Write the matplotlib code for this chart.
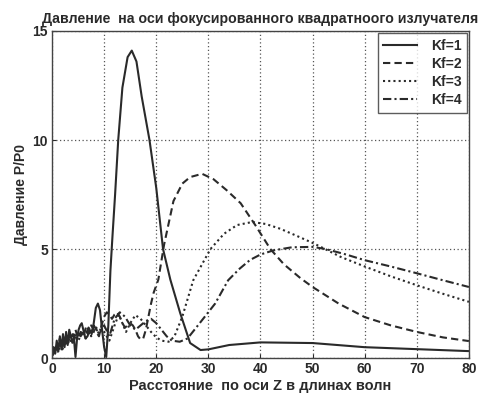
import matplotlib
matplotlib.use("Agg")
import matplotlib.pyplot as plt

# Kf=1 (solid)
x1 = [0, 0.3, 0.6, 0.9, 1.2, 1.5, 1.8, 2.1, 2.4, 2.7, 3.0, 3.3, 3.6, 3.9, 4.2, 4.5, 4.8,
      5.1, 5.4, 5.7, 6.0, 6.4, 6.8, 7.2, 7.6, 8.0, 8.4, 8.8, 9.2, 9.6, 10.0, 10.4, 10.8,
      11.2, 11.6, 12.1, 12.7, 13.5, 14.5, 15.3, 16.2, 17.2, 18.7, 20.0, 21.3, 22.7, 24.6,
      26.5, 28.5, 30, 34, 40, 50, 60, 70, 80]
y1 = [0.1, 0.5, 0.2, 0.8, 0.3, 1.0, 0.4, 1.1, 0.5, 1.2, 0.6, 1.3, 1.0, 0.7, 0.9, 0.05, 0.9,
      1.3, 1.5, 1.6, 1.3, 0.9, 1.0, 1.3, 1.1, 1.6, 2.3, 2.5, 2.2, 1.3, 0.5, 0.05, 1.5,
      4.0, 5.6, 7.5, 10.0, 12.4, 13.8, 14.1, 13.6, 12.0, 10.0, 7.8, 5.0, 3.6, 2.06,
      0.69, 0.37, 0.4, 0.6, 0.72, 0.69, 0.5, 0.41, 0.32]

# Kf=2 (dashed)
x2 = [0, 0.5, 1, 1.5, 2, 2.5, 3, 3.5, 4, 4.5, 5, 5.5, 6, 6.5, 7, 7.5, 8, 8.5, 9, 9.5,
      10, 10.5, 11, 11.5, 12, 12.5, 13, 13.5, 14, 14.5, 15, 15.5, 16, 16.5, 17, 17.5,
      18, 18.5, 19, 19.5, 20.4, 21.5, 23.3, 25, 26.5, 28.8, 31, 33.5, 36.2, 39, 41.9,
      44.5, 47.7, 50, 55, 60, 65, 70, 75, 80]
y2 = [0.2, 0.6, 0.4, 0.9, 0.5, 1.0, 0.7, 1.1, 0.8, 1.3, 0.9, 1.2, 1.0, 1.4, 1.1, 1.5,
      1.3, 1.2, 1.0, 1.5, 1.9, 2.1, 2.0, 1.8, 2.0, 2.1, 1.9, 1.6, 1.4, 1.5, 1.6, 1.5,
      1.3, 1.0, 0.85, 0.9, 1.3, 1.9, 2.5, 3.0, 3.6, 5.2, 7.2, 8.0, 8.3, 8.45, 8.2, 7.7,
      7.1, 6.1, 5.0, 4.3, 3.66, 3.26, 2.5, 1.88, 1.5, 1.2, 0.95, 0.78]

# Kf=3 (dotted)
x3 = [0, 0.5, 1, 1.5, 2, 2.5, 3, 3.5, 4, 4.5, 5, 5.5, 6, 6.5, 7, 7.5, 8, 8.5, 9, 9.5,
      10, 11, 12, 12.8, 13.5, 14.2, 15, 16, 17, 18, 19, 20, 21, 22.4, 23.5, 25, 27.1,
      30.4, 33, 35.5, 38.4, 41, 43.8, 47, 50.3, 55.4, 60, 65, 70, 75, 80]
y3 = [0.1, 0.4, 0.3, 0.7, 0.4, 0.9, 0.6, 1.0, 0.7, 1.1, 0.8, 1.0, 1.2, 0.9, 1.3, 1.0,
      1.2, 1.4, 1.1, 1.3, 1.2, 0.8, 1.5, 2.0, 1.6, 1.2, 1.6, 1.97, 1.8, 1.5, 1.2, 0.95,
      0.8, 0.75, 1.0, 1.9, 3.57, 5.0, 5.7, 6.1, 6.24, 6.15, 5.93, 5.6, 5.25, 4.64, 4.2,
      3.75, 3.34, 2.95, 2.58]

# Kf=4 (dash-dot)
x4 = [0, 0.5, 1, 1.5, 2, 2.5, 3, 3.5, 4, 4.5, 5, 5.5, 6, 6.5, 7, 7.5, 8, 8.5, 9, 9.5,
      10, 11, 12, 13, 14, 15, 16, 17, 18, 19, 20, 21, 22, 23, 24.5, 26, 28, 31.3, 33.8,
      36, 38, 40, 42.5, 46, 50, 52.5, 56, 60, 65, 70, 75, 80]
y4 = [0.1, 0.3, 0.5, 0.4, 0.8, 0.6, 1.0, 0.7, 1.1, 0.9, 1.2, 1.0, 1.3, 1.1, 1.4, 1.2,
      1.5, 1.3, 1.2, 1.4, 1.5, 1.0, 1.8, 2.1, 1.9, 1.5, 1.3, 1.5, 1.7, 1.8, 1.6, 1.3,
      1.0, 0.8, 0.75, 0.9, 1.5, 2.5, 3.57, 4.1, 4.5, 4.75, 4.94, 5.08, 5.1, 5.0, 4.78,
      4.49, 4.2, 3.89, 3.57, 3.26]

labels = ["Kf=1", "Kf=2", "Kf=3", "Kf=4"]
title = "Давление  на оси фокусированного квадратноого излучателя"
xlabel = "Расстояние  по оси Z в длинах волн"
ylabel = "Давление P/P0"

plt.rcParams['font.family'] = ['Liberation Sans', 'DejaVu Sans']
plt.rcParams['font.weight'] = 'bold'

fig = plt.figure(figsize=(4.91, 3.97), dpi=100)
ax = fig.add_axes([0.106, 0.098, 0.849, 0.824])
col = "#2a2a2a"
ax.plot(x1, y1, color=col, lw=1.5, ls='-', label=labels[0])
ax.plot(x2, y2, color=col, lw=1.5, ls=(0, (3.5, 2)), label=labels[1])
ax.plot(x3, y3, color=col, lw=1.5, ls=(0, (1, 1.5)), label=labels[2])
ax.plot(x4, y4, color=col, lw=1.5, ls=(0, (4, 1.5, 1, 1.5)), label=labels[3])

ax.set_xlim(0, 80)
ax.set_ylim(0, 15)
ax.set_xticks(range(0, 81, 10))
ax.set_yticks([0, 5, 10, 15])
ax.grid(True, ls=(0, (1, 2)), color="#555555", lw=0.9)
ax.tick_params(direction='in', labelsize=10, length=3, colors=col, pad=3)
for s in ax.spines.values():
    s.set_color("#444444")
    s.set_linewidth(1.0)
ax.set_title(title, fontsize=10.2, fontweight='bold', color=col, pad=6)
ax.set_xlabel(xlabel, fontsize=10.5, fontweight='bold', color=col, labelpad=2)
ax.set_ylabel(ylabel, fontsize=10, fontweight='bold', color=col, labelpad=3)
leg = ax.legend(loc='upper right', frameon=True, fancybox=False,
                edgecolor="#333333", borderaxespad=0.15, handlelength=2.4,
                handletextpad=1.0, borderpad=0.4,
                labelspacing=0.3, prop={'weight': 'bold', 'size': 10})
leg.get_frame().set_linewidth(1.0)
for t in leg.get_texts():
    t.set_color(col)

fig.savefig("out.png", dpi=100, facecolor="white")
